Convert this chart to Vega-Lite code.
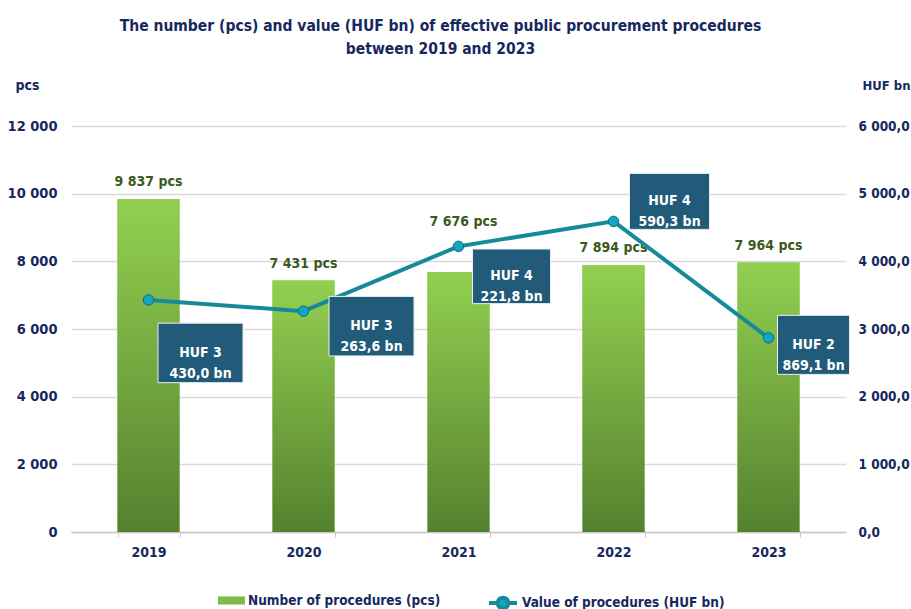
{
  "$schema": "https://vega.github.io/schema/vega-lite/v6.json",
  "width": 775,
  "height": 406,
  "autosize": {"type": "none"},
  "padding": {"left": 71, "top": 126, "right": 65, "bottom": 77},
  "background": "white",
  "config": {
    "locale": {"number": {"decimal": ",", "thousands": " ", "grouping": [3], "currency": ["", ""]}},
    "font": "DejaVu Sans Condensed, sans-serif",
    "view": {"stroke": null}
  },
  "title": {
    "text": ["The number (pcs) and value (HUF bn) of effective public procurement procedures", "between 2019 and 2023"],
    "anchor": "middle",
    "fontSize": 15.5,
    "fontWeight": "bold",
    "font": "DejaVu Sans Condensed, sans-serif",
    "color": "#17285e",
    "lineHeight": 23,
    "offset": 21,
    "dx": -18
  },
  "data": {
    "values": [
      {"year": "2019", "pcs": 9837, "value": 3430.0, "pcsLabel": "9 837 pcs", "valueLabel": "HUF 3\n430,0 bn"},
      {"year": "2020", "pcs": 7431, "value": 3263.6, "pcsLabel": "7 431 pcs", "valueLabel": "HUF 3\n263,6 bn"},
      {"year": "2021", "pcs": 7676, "value": 4221.8, "pcsLabel": "7 676 pcs", "valueLabel": "HUF 4\n221,8 bn"},
      {"year": "2022", "pcs": 7894, "value": 4590.3, "pcsLabel": "7 894 pcs", "valueLabel": "HUF 4\n590,3 bn"},
      {"year": "2023", "pcs": 7964, "value": 2869.1, "pcsLabel": "7 964 pcs", "valueLabel": "HUF 2\n869,1 bn"}
    ]
  },
  "encoding": {
    "x": {
      "field": "year",
      "type": "nominal",
      "scale": {"paddingInner": 0.6, "paddingOuter": 0.3},
      "axis": {
        "title": null,
        "labelAngle": 0,
        "labelFontSize": 14,
        "labelFontWeight": "bold",
        "labelColor": "#17285e",
        "labelPadding": 8,
        "ticks": true,
        "tickBand": "extent",
        "tickSize": 5,
        "tickColor": "#c8c8c8",
        "domainColor": "#c8c8c8",
        "domainWidth": 1.5,
        "grid": false
      }
    }
  },
  "layer": [
    {
      "encoding": {
        "y": {
          "field": "pcs",
          "type": "quantitative",
          "scale": {"domain": [0, 12000], "nice": false},
          "axis": {
            "orient": "left",
            "values": [0, 2000, 4000, 6000, 8000, 10000, 12000],
            "format": ",.0f",
            "title": "pcs",
            "titleAngle": 0,
            "titleAlign": "left",
            "titleBaseline": "middle",
            "titleX": -56,
            "titleY": -41,
            "titleFontSize": 14,
            "titleFontWeight": "bold",
            "titleColor": "#17285e",
            "labelFontSize": 14.5,
            "labelFontWeight": "bold",
            "labelColor": "#17285e",
            "labelPadding": 14,
            "ticks": false,
            "domain": false,
            "grid": true,
            "gridColor": "#d9d9d9",
            "gridWidth": 1.5
          }
        }
      },
      "layer": [
        {
          "mark": {"type": "bar"},
          "encoding": {
            "fill": {
              "datum": "Number of procedures (pcs)",
              "type": "nominal",
              "scale": {"range": ["#7dba46"]},
              "legend": {
                "title": null,
                "orient": "none",
                "legendX": 147,
                "legendY": 461,
                "symbolType": "M-1,-0.3L1,-0.3L1,0.3L-1,0.3Z",
                "symbolSize": 729,
                "symbolStrokeWidth": 0,
                "labelFontSize": 13.5,
                "labelFontWeight": "bold",
                "labelColor": "#17285e",
                "labelOffset": 3,
                "labelLimit": 400
              }
            }
          }
        },
        {
          "mark": {
            "type": "bar",
            "color": {"gradient": "linear", "x1": 0, "y1": 0, "x2": 0, "y2": 1,
              "stops": [{"offset": 0, "color": "#92d050"}, {"offset": 1, "color": "#55812f"}]}
          }
        },
        {
          "transform": [{"filter": "datum.year != '2021'"}],
          "mark": {"type": "text", "dy": -17, "baseline": "middle", "fontSize": 14, "fontWeight": "bold", "color": "#3b5a1e"},
          "encoding": {"text": {"field": "pcsLabel"}}
        },
        {
          "transform": [{"filter": "datum.year == '2021'"}],
          "mark": {"type": "text", "dy": -50, "dx": 5, "baseline": "middle", "fontSize": 14, "fontWeight": "bold", "color": "#3b5a1e"},
          "encoding": {"text": {"field": "pcsLabel"}}
        }
      ]
    },
    {
      "encoding": {
        "y": {
          "field": "value",
          "type": "quantitative",
          "scale": {"domain": [0, 6000], "nice": false},
          "axis": {
            "orient": "right",
            "values": [0, 1000, 2000, 3000, 4000, 5000, 6000],
            "format": ",.1f",
            "title": "HUF bn",
            "titleAngle": 0,
            "titleAlign": "left",
            "titleBaseline": "middle",
            "titleX": 16,
            "titleY": -41,
            "titleFontSize": 13,
            "titleFontWeight": "bold",
            "titleColor": "#17285e",
            "labelFontSize": 13.5,
            "labelFontWeight": "bold",
            "labelColor": "#17285e",
            "labelPadding": 12,
            "ticks": false,
            "domain": false,
            "grid": false
          }
        }
      },
      "layer": [
        {
          "mark": {"type": "line", "strokeWidth": 4},
          "encoding": {
            "stroke": {
              "datum": "Value of procedures (HUF bn)",
              "type": "nominal",
              "scale": {"range": ["#178a9a"]},
              "legend": {
                "title": null,
                "orient": "none",
                "legendX": 416,
                "legendY": 461,
                "symbolType": "M-1,0L-0.38,0M0.38,0L1,0M0.38,0A0.38,0.38,0,1,1,-0.38,0A0.38,0.38,0,1,1,0.38,0Z",
                "symbolSize": 784,
                "symbolStrokeWidth": 4,
                "symbolFillColor": "#12a5c4",
                "labelFontSize": 13.5,
                "labelFontWeight": "bold",
                "labelColor": "#17285e",
                "labelOffset": 3,
                "labelLimit": 400
              }
            }
          }
        },
        {
          "mark": {"type": "point", "filled": true, "size": 110, "fill": "#12a5c4", "stroke": "#0c6b78", "strokeWidth": 1, "opacity": 1}
        },
        {
          "transform": [{"filter": "datum.year == '2019'"}],
          "layer": [
            {"mark": {"type": "point", "shape": "M-1,-0.7L1,-0.7L1,0.7L-1,0.7Z", "filled": true, "fill": "#225a79", "stroke": "#e8eef2", "strokeWidth": 1, "size": 7225, "opacity": 1, "xOffset": 52, "yOffset": 53}},
            {"mark": {"type": "text", "lineBreak": "\n", "lineHeight": 21, "align": "center", "baseline": "middle", "fontSize": 14, "fontWeight": "bold", "color": "white", "xOffset": 52, "yOffset": 53}, "encoding": {"text": {"field": "valueLabel"}}}
          ]
        },
        {
          "transform": [{"filter": "datum.year == '2020'"}],
          "layer": [
            {"mark": {"type": "point", "shape": "M-1,-0.7L1,-0.7L1,0.7L-1,0.7Z", "filled": true, "fill": "#225a79", "stroke": "#e8eef2", "strokeWidth": 1, "size": 7225, "opacity": 1, "xOffset": 68, "yOffset": 15}},
            {"mark": {"type": "text", "lineBreak": "\n", "lineHeight": 21, "align": "center", "baseline": "middle", "fontSize": 14, "fontWeight": "bold", "color": "white", "xOffset": 68, "yOffset": 15}, "encoding": {"text": {"field": "valueLabel"}}}
          ]
        },
        {
          "transform": [{"filter": "datum.year == '2021'"}],
          "layer": [
            {"mark": {"type": "point", "shape": "M-1,-0.7L1,-0.7L1,0.7L-1,0.7Z", "filled": true, "fill": "#225a79", "stroke": "#e8eef2", "strokeWidth": 1, "size": 6084, "opacity": 1, "xOffset": 53, "yOffset": 30}},
            {"mark": {"type": "text", "lineBreak": "\n", "lineHeight": 21, "align": "center", "baseline": "middle", "fontSize": 14, "fontWeight": "bold", "color": "white", "xOffset": 53, "yOffset": 30}, "encoding": {"text": {"field": "valueLabel"}}}
          ]
        },
        {
          "transform": [{"filter": "datum.year == '2022'"}],
          "layer": [
            {"mark": {"type": "point", "shape": "M-1,-0.7L1,-0.7L1,0.7L-1,0.7Z", "filled": true, "fill": "#225a79", "stroke": "#e8eef2", "strokeWidth": 1, "size": 6400, "opacity": 1, "xOffset": 56, "yOffset": -20}},
            {"mark": {"type": "text", "lineBreak": "\n", "lineHeight": 21, "align": "center", "baseline": "middle", "fontSize": 14, "fontWeight": "bold", "color": "white", "xOffset": 56, "yOffset": -20}, "encoding": {"text": {"field": "valueLabel"}}}
          ]
        },
        {
          "transform": [{"filter": "datum.year == '2023'"}],
          "layer": [
            {"mark": {"type": "point", "shape": "M-1,-0.82L1,-0.82L1,0.82L-1,0.82Z", "filled": true, "fill": "#225a79", "stroke": "#e8eef2", "strokeWidth": 1, "size": 5184, "opacity": 1, "xOffset": 45, "yOffset": 7}},
            {"mark": {"type": "text", "lineBreak": "\n", "lineHeight": 21, "align": "center", "baseline": "middle", "fontSize": 14, "fontWeight": "bold", "color": "white", "xOffset": 45, "yOffset": 7}, "encoding": {"text": {"field": "valueLabel"}}}
          ]
        }
      ]
    }
  ],
  "resolve": {"scale": {"y": "independent"}}
}
